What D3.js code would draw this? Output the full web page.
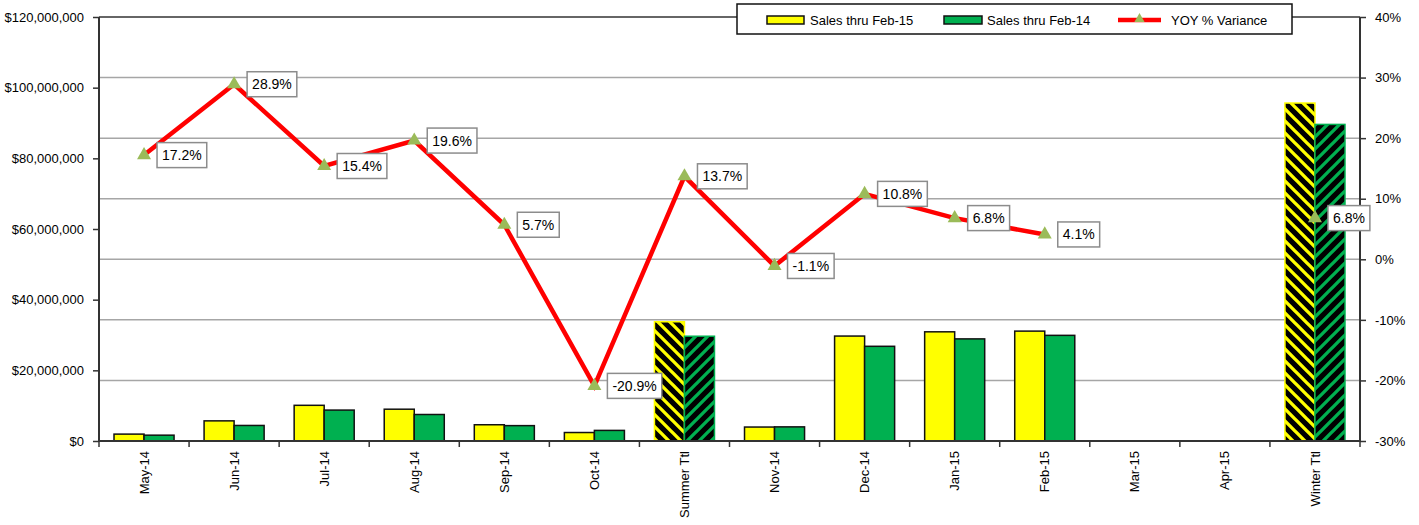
<!DOCTYPE html>
<html>
<head>
<meta charset="utf-8">
<script src="https://cdn.jsdelivr.net/npm/d3@7"></script>
<style>
  body { margin: 0; background: #fff; }
  svg text { font-family: Arial, "Liberation Sans", sans-serif; fill: #000; }
</style>
</head>
<body>
<svg id="chart" width="1419" height="525"></svg>
<script>
// chart data
var categories = ["May-14","Jun-14","Jul-14","Aug-14","Sep-14","Oct-14","Summer Ttl",
                  "Nov-14","Dec-14","Jan-15","Feb-15","Mar-15","Apr-15","Winter Ttl"];
var salesFeb15 = [1950000,5700000,10100000,9000000,4600000,2400000,33750000,
                  3950000,29700000,30900000,31100000,0,0,95650000];
var salesFeb14 = [1650000,4400000,8750000,7500000,4350000,3000000,29650000,
                  4000000,26800000,28900000,29900000,0,0,89600000];
var yoyVariance = [0.172,0.289,0.154,0.196,0.057,-0.209,0.137,
                   -0.011,0.108,0.068,0.041,null,null,0.068];
var totalCats = ["Summer Ttl","Winter Ttl"];
var leftTicks = [0,20000000,40000000,60000000,80000000,100000000,120000000];
var rightTicks = [-0.3,-0.2,-0.1,0,0.1,0.2,0.3,0.4];
var seriesNames = ["Sales thru Feb-15","Sales thru Feb-14","YOY % Variance"];

var space = {left: 99, right: 1360, top: 17, bottom: 441};
var colors = {cur: "#FFFF00", prev: "#00B050", line: "#FF0000", marker: "#9BBB59", grid: "#A6A6A6", axis: "#333"};

var svg = d3.select("#chart");

// excel style minus sign is a plain hyphen
var pct0 = function (d) { return d3.format(".0%")(d).replace("\u2212", "-"); };
var pct1 = function (d) { return d3.format(".1%")(d).replace("\u2212", "-"); };

// hatch patterns for the total bars
var defs = svg.append("defs");
function addHatch(id, color, down) {
    var p = defs.append("pattern")
        .attr("id", id)
        .attr("patternUnits", "userSpaceOnUse")
        .attr("width", 12).attr("height", 12);
    p.append("rect").attr("width", 12).attr("height", 12).attr("fill", "#000");
    var d = down ? "M-3,9 L3,15 M0,0 L12,12 M9,-3 L15,3" : "M-3,3 L3,-3 M0,12 L12,0 M9,15 L15,9";
    p.append("path").attr("d", d).attr("stroke", color).attr("stroke-width", 3.3);
}
addHatch("hatchCur", colors.cur, true);
addHatch("hatchPrev", colors.prev, false);

// scales
var x = d3.scaleBand().domain(categories).range([space.left, space.right]).padding(0);
var xSub = d3.scaleBand().domain(["cur","prev"]).range([0, x.bandwidth()]).paddingInner(0).paddingOuter(0.5);
var yLeft = d3.scaleLinear().domain([0,120000000]).range([space.bottom, space.top]);
var yRight = d3.scaleLinear().domain([-0.3,0.4]).range([space.bottom, space.top]);

// gridlines follow the right axis
svg.append("g").selectAll("line")
    .data(rightTicks.slice(1, -1))
    .enter().append("line")
    .attr("x1", space.left).attr("x2", space.right)
    .attr("y1", function (d) { return yRight(d); })
    .attr("y2", function (d) { return yRight(d); })
    .attr("stroke", colors.grid).attr("stroke-width", 1.5);

// bars
var barData = [];
categories.forEach(function (c, i) {
    var isTotal = totalCats.indexOf(c) >= 0;
    barData.push({cat: c, key: "cur", v: salesFeb15[i], total: isTotal});
    barData.push({cat: c, key: "prev", v: salesFeb14[i], total: isTotal});
});
svg.append("g").selectAll("rect")
    .data(barData.filter(function (d) { return d.v > 0; }))
    .enter().append("rect")
    .attr("x", function (d) { return x(d.cat) + xSub(d.key); })
    .attr("width", xSub.bandwidth())
    .attr("y", function (d) { return yLeft(d.v); })
    .attr("height", function (d) { return yLeft(0) - yLeft(d.v); })
    .attr("fill", function (d) {
        if (d.total) return d.key == "cur" ? "url(#hatchCur)" : "url(#hatchPrev)";
        return colors[d.key];
    })
    .attr("stroke", function (d) {
        if (d.total) return colors[d.key];
        return "#111";
    })
    .attr("stroke-width", 1.5);

// plot frame top
svg.append("line")
    .attr("x1", space.left).attr("x2", space.right)
    .attr("y1", space.top).attr("y2", space.top)
    .attr("stroke", colors.axis).attr("stroke-width", 1.5);

// left axis
var leftAxis = svg.append("g")
    .attr("transform", "translate(" + space.left + ",0)")
    .call(d3.axisLeft(yLeft).tickValues(leftTicks).tickSize(6).tickPadding(9)
        .tickFormat(function (d) { return "$" + d3.format(",")(d); }));

// right axis
var rightAxis = svg.append("g")
    .attr("transform", "translate(" + space.right + ",0)")
    .call(d3.axisRight(yRight).tickValues(rightTicks).tickSize(6).tickPadding(9)
        .tickFormat(pct0));

// bottom axis: labels at centres, ticks at category edges
var bottomAxis = svg.append("g")
    .attr("transform", "translate(0," + space.bottom + ")")
    .call(d3.axisBottom(x).tickSize(0).tickPadding(0));
bottomAxis.selectAll(".tick text")
    .attr("transform", "rotate(-90)")
    .attr("text-anchor", "end")
    .attr("x", -10).attr("y", 0).attr("dy", "0.35em");
bottomAxis.selectAll(".edge")
    .data(categories.map(function (c) { return x(c); }).concat([space.right]))
    .enter().append("line")
    .attr("class", "edge")
    .attr("x1", function (d) { return d; }).attr("x2", function (d) { return d; })
    .attr("y1", 0).attr("y2", 6)
    .attr("stroke", colors.axis).attr("stroke-width", 1.5);

[leftAxis, rightAxis, bottomAxis].forEach(function (g) {
    g.select(".domain").attr("stroke", colors.axis).attr("stroke-width", 2);
    g.selectAll(".tick line").attr("stroke", colors.axis).attr("stroke-width", 1.5);
    g.selectAll(".tick text").attr("font-size", 13).attr("fill", "#000");
});
leftAxis.select(".domain").attr("d", "M0," + space.bottom + "V" + space.top);
rightAxis.select(".domain").attr("d", "M0," + space.bottom + "V" + space.top);
bottomAxis.select(".domain").attr("d", "M" + space.left + ",0H" + space.right);

// YOY line
var yoyData = categories.map(function (c, i) { return {cat: c, v: yoyVariance[i]}; });
var cx = function (d) { return x(d.cat) + x.bandwidth() / 2; };
var line = d3.line()
    .defined(function (d) { return d.v != null; })
    .x(cx)
    .y(function (d) { return yRight(d.v); });
svg.append("path")
    .datum(yoyData)
    .attr("d", line)
    .attr("fill", "none")
    .attr("stroke", colors.line)
    .attr("stroke-width", 4.5)
    .attr("stroke-linejoin", "miter");

var points = yoyData.filter(function (d) { return d.v != null; });
svg.append("g").selectAll("path")
    .data(points)
    .enter().append("path")
    .attr("d", d3.symbol().type(d3.symbolTriangle).size(85))
    .attr("transform", function (d) { return "translate(" + cx(d) + "," + yRight(d.v) + ")"; })
    .attr("fill", colors.marker);

// data labels in boxes
var labels = svg.append("g").selectAll("g")
    .data(points)
    .enter().append("g")
    .attr("transform", function (d) { return "translate(" + (cx(d) + 13) + "," + yRight(d.v) + ")"; });
labels.each(function (d) {
    var g = d3.select(this);
    var box = g.append("rect");
    var t = g.append("text")
        .attr("x", 5).attr("y", 0).attr("dy", "0.36em")
        .attr("font-size", 14)
        .text(pct1(d.v));
    var w = t.node().getComputedTextLength() + 10;
    box.attr("x", 0).attr("y", -12.5).attr("width", w).attr("height", 25)
        .attr("fill", "#fff").attr("stroke", "#8c8c8c").attr("stroke-width", 1.5);
});

// legend
var legend = svg.append("g");
legend.append("rect")
    .attr("x", 737).attr("y", 4).attr("width", 555).attr("height", 30)
    .attr("fill", "#fff").attr("stroke", "#111").attr("stroke-width", 1.5);
legend.append("rect").attr("x", 767).attr("y", 16).attr("width", 37).attr("height", 8)
    .attr("fill", colors.cur).attr("stroke", "#111").attr("stroke-width", 1.5);
legend.append("text").attr("x", 810).attr("y", 24.5).attr("font-size", 13).text(seriesNames[0]);
legend.append("rect").attr("x", 944).attr("y", 16).attr("width", 38).attr("height", 8)
    .attr("fill", colors.prev).attr("stroke", "#111").attr("stroke-width", 1.5);
legend.append("text").attr("x", 987).attr("y", 24.5).attr("font-size", 13).text(seriesNames[1]);
legend.append("line").attr("x1", 1118).attr("x2", 1161).attr("y1", 20).attr("y2", 20)
    .attr("stroke", colors.line).attr("stroke-width", 4.5);
legend.append("path")
    .attr("d", d3.symbol().type(d3.symbolTriangle).size(45))
    .attr("transform", "translate(1139.5,19)")
    .attr("fill", colors.marker);
legend.append("text").attr("x", 1171).attr("y", 24.5).attr("font-size", 13).text(seriesNames[2]);
</script>
</body>
</html>
